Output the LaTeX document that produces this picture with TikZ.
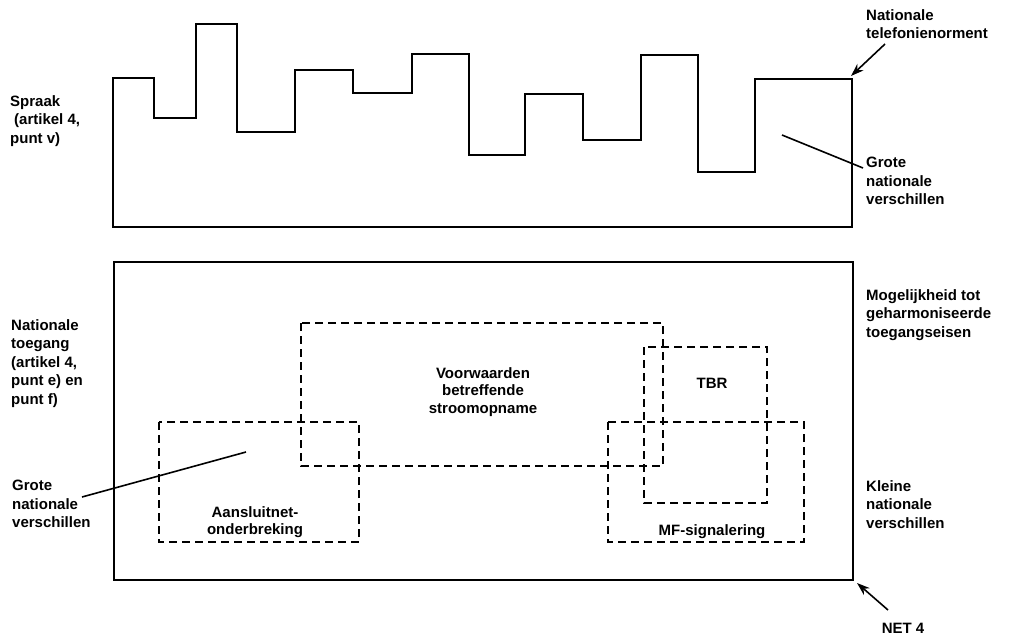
\documentclass[tikz,border=0pt]{standalone}
\usepackage{fontspec}
\setmainfont{Liberation Sans}
\usetikzlibrary{arrows.meta}
\begin{document}
\begin{tikzpicture}[x=1pt,y=-1pt,
  lbl/.style={font=\bfseries\fontsize{15}{18.5}\selectfont, inner sep=0pt, align=left},
  ctr/.style={font=\bfseries\fontsize{15}{17.5}\selectfont, inner sep=0pt, align=center},
  solidline/.style={line width=1.7pt, line join=miter},
  dbox/.style={line width=1.5pt, dash pattern=on 8pt off 5pt},
  pointer/.style={line width=1.6pt},
  arr/.style={line width=1.6pt, -{Stealth[length=13pt,width=9pt]}}]
\useasboundingbox (0,0) rectangle (1011,635);
% top step curve
\draw[solidline] (113,227) -- (113,78) -- (154,78) -- (154,118) -- (196,118) -- (196,24)
  -- (237,24) -- (237,132) -- (295,132) -- (295,70) -- (353,70) -- (353,93) -- (412,93)
  -- (412,54) -- (469,54) -- (469,155) -- (525,155) -- (525,94) -- (583,94) -- (583,140)
  -- (641,140) -- (641,55) -- (698,55) -- (698,172) -- (755,172) -- (755,79) -- (852,79)
  -- (852,227) -- cycle;
% bottom outer box
\draw[solidline] (114,262) rectangle (853,580);
% dashed boxes
\draw[dbox] (301,323) rectangle (663,466);
\draw[dbox] (159,422) rectangle (359,542);
\draw[dbox] (644,347) rectangle (767,503);
\draw[dbox] (608,422) rectangle (804,542);
% texts
\node[lbl, anchor=north west] (spraak) at (10,95) {Spraak\\\hspace{4pt}(artikel 4,\\punt v)};
\node[lbl, anchor=north west] (telef) at (866,9) {Nationale\\telefonienorment};
\node[lbl, anchor=north west] (grote1) at (866,157) {Grote\\nationale\\verschillen};
\node[lbl, anchor=north west] (toeg) at (11,319) {Nationale\\toegang\\(artikel 4,\\punt e) en\\punt f)};
\node[lbl, anchor=north west] (grote2) at (12,480) {Grote\\nationale\\verschillen};
\node[lbl, anchor=north west] (mogel) at (866,289) {Mogelijkheid tot\\geharmoniseerde\\toegangseisen};
\node[lbl, anchor=north west] (kleine) at (866,480) {Kleine\\nationale\\verschillen};
\node[ctr] (voorw) at (483,392) {Voorwaarden\\betreffende\\stroomopname};
\node[ctr] (aansl) at (255,522) {Aansluitnet-\\onderbreking};
\node[ctr] (tbr) at (712,383) {TBR};
\node[ctr] (mf) at (712,532) {MF-signalering};
\node[ctr] (net) at (903,628) {NET 4};
% pointers
\coordinate (telefTip) at (851,76);
\coordinate (netTip) at (857,583);
\coordinate (g1end) at (782,135);
\coordinate (g2end) at (246,452);
\draw[arr] (885,44) -- (telefTip);
\draw[arr] (888,610) -- (netTip);
\draw[pointer] (863,168) -- (g1end);
\draw[pointer] (82,497) -- (g2end);
\end{tikzpicture}
\end{document}
